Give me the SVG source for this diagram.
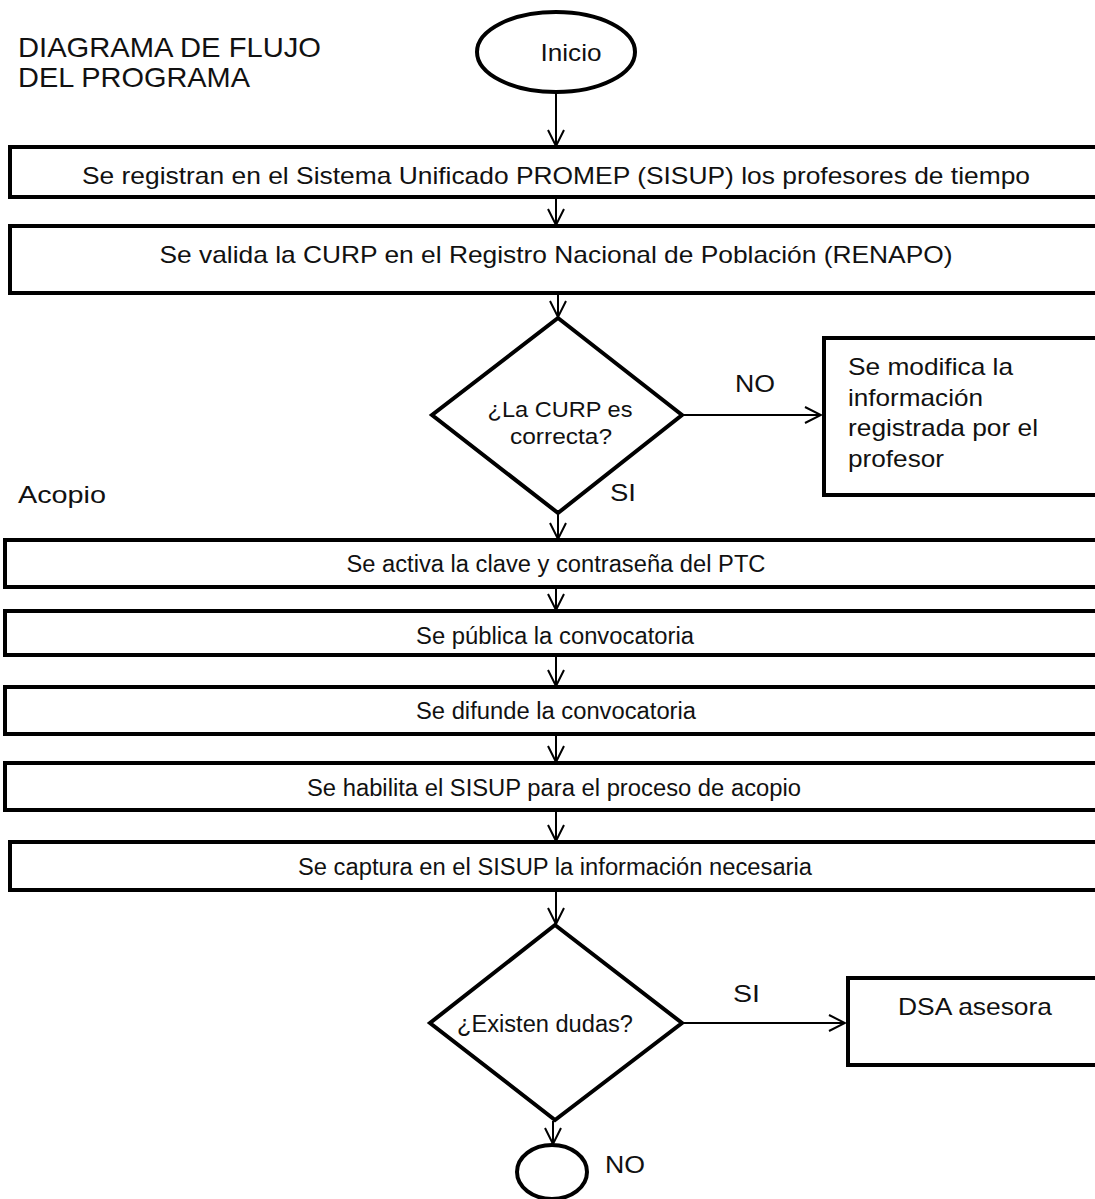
<svg xmlns="http://www.w3.org/2000/svg" width="1095" height="1199" viewBox="0 0 1095 1199">
<style>
text{font-family:"Liberation Sans",Arial,sans-serif;fill:#111}
.box{fill:#fff;stroke:#000;stroke-width:4}
.c{text-anchor:middle}
.conn{stroke:#000;stroke-width:2;fill:none;marker-end:url(#ah)}
</style>
<defs>
<marker id="ah" viewBox="0 0 20 20" refX="18" refY="10" markerWidth="20" markerHeight="20" markerUnits="userSpaceOnUse" orient="auto">
<path d="M2,2 L18,10 L2,18" fill="none" stroke="#000" stroke-width="2"/>
</marker>
</defs>
<rect width="1095" height="1199" fill="#fff"/>
<g id="title">
<text x="18" y="57" font-size="28" textLength="303" lengthAdjust="spacingAndGlyphs">DIAGRAMA DE FLUJO</text>
<text x="18" y="87" font-size="28" textLength="232" lengthAdjust="spacingAndGlyphs">DEL PROGRAMA</text>
</g>
<g id="acopio-label"><text x="18" y="503" font-size="24" textLength="88" lengthAdjust="spacingAndGlyphs">Acopio</text></g>
<g id="connectors">
<line class="conn" x1="556" y1="93" x2="556" y2="146"/>
<line class="conn" x1="556" y1="198" x2="556" y2="225"/>
<line class="conn" x1="558" y1="294" x2="558" y2="317"/>
<line class="conn" x1="682" y1="415" x2="821" y2="415"/>
<line class="conn" x1="558" y1="514" x2="558" y2="539"/>
<line class="conn" x1="556" y1="588" x2="556" y2="610"/>
<line class="conn" x1="556" y1="656" x2="556" y2="686"/>
<line class="conn" x1="556" y1="735" x2="556" y2="762"/>
<line class="conn" x1="556" y1="811" x2="556" y2="841"/>
<line class="conn" x1="556" y1="891" x2="556" y2="924"/>
<line class="conn" x1="682" y1="1023" x2="845" y2="1023"/>
<line class="conn" x1="553" y1="1121" x2="553" y2="1144"/>
<text x="735" y="392" font-size="24" textLength="40" lengthAdjust="spacingAndGlyphs">NO</text>
<text x="610" y="501" font-size="24" textLength="26" lengthAdjust="spacingAndGlyphs">SI</text>
<text x="733" y="1002" font-size="24" textLength="27" lengthAdjust="spacingAndGlyphs">SI</text>
<text x="605" y="1173" font-size="24" textLength="40" lengthAdjust="spacingAndGlyphs">NO</text>
</g>
<g id="inicio">
<ellipse cx="556" cy="52" rx="79" ry="40" fill="#fff" stroke="#000" stroke-width="4"/>
<text x="571" y="61" font-size="24" class="c" textLength="61" lengthAdjust="spacingAndGlyphs">Inicio</text>
</g>
<g id="registro">
<rect class="box" x="10" y="147" width="1095" height="50"/>
<text x="556" y="184" font-size="24" class="c" textLength="948" lengthAdjust="spacingAndGlyphs">Se registran en el Sistema Unificado PROMEP (SISUP) los profesores de tiempo</text>
</g>
<g id="valida">
<rect class="box" x="10" y="226" width="1095" height="67"/>
<text x="556" y="263" font-size="24" class="c" textLength="793" lengthAdjust="spacingAndGlyphs">Se valida la CURP en el Registro Nacional de Población (RENAPO)</text>
</g>
<g id="decision-curp">
<polygon points="558,318 682,415 558,513 432,415" fill="#fff" stroke="#000" stroke-width="4"/>
<text x="560" y="417" font-size="22" class="c" textLength="145" lengthAdjust="spacingAndGlyphs">¿La CURP es</text>
<text x="561" y="444" font-size="22" class="c" textLength="102" lengthAdjust="spacingAndGlyphs">correcta?</text>
</g>
<g id="modifica">
<rect class="box" x="824" y="338" width="290" height="157"/>
<text x="848" y="375" font-size="24" textLength="165" lengthAdjust="spacingAndGlyphs">Se modifica la</text>
<text x="848" y="406" font-size="24" textLength="135" lengthAdjust="spacingAndGlyphs">información</text>
<text x="848" y="436" font-size="24" textLength="190" lengthAdjust="spacingAndGlyphs">registrada por el</text>
<text x="848" y="467" font-size="24" textLength="96" lengthAdjust="spacingAndGlyphs">profesor</text>
</g>
<g id="activa">
<rect class="box" x="5" y="540" width="1100" height="47"/>
<text x="556" y="572" font-size="23" class="c" textLength="419" lengthAdjust="spacingAndGlyphs">Se activa la clave y contraseña del PTC</text>
</g>
<g id="publica">
<rect class="box" x="5" y="611" width="1100" height="44"/>
<text x="555" y="644" font-size="23" class="c" textLength="278" lengthAdjust="spacingAndGlyphs">Se pública la convocatoria</text>
</g>
<g id="difunde">
<rect class="box" x="5" y="687" width="1100" height="47"/>
<text x="556" y="719" font-size="23" class="c" textLength="280" lengthAdjust="spacingAndGlyphs">Se difunde la convocatoria</text>
</g>
<g id="habilita">
<rect class="box" x="5" y="763" width="1100" height="47"/>
<text x="554" y="796" font-size="23" class="c" textLength="494" lengthAdjust="spacingAndGlyphs">Se habilita el SISUP para el proceso de acopio</text>
</g>
<g id="captura">
<rect class="box" x="10" y="842" width="1095" height="48"/>
<text x="555" y="875" font-size="23" class="c" textLength="514" lengthAdjust="spacingAndGlyphs">Se captura en el SISUP la información necesaria</text>
</g>
<g id="decision-dudas">
<polygon points="555,925 682,1023 555,1120 430,1023" fill="#fff" stroke="#000" stroke-width="4"/>
<text x="545" y="1032" font-size="23" class="c" textLength="176" lengthAdjust="spacingAndGlyphs">¿Existen dudas?</text>
</g>
<g id="dsa">
<rect class="box" x="848" y="978" width="260" height="87"/>
<text x="898" y="1015" font-size="24" textLength="154" lengthAdjust="spacingAndGlyphs">DSA asesora</text>
</g>
<g id="fin">
<ellipse cx="552" cy="1172" rx="35" ry="27" fill="#fff" stroke="#000" stroke-width="4"/>
</g>
</svg>
